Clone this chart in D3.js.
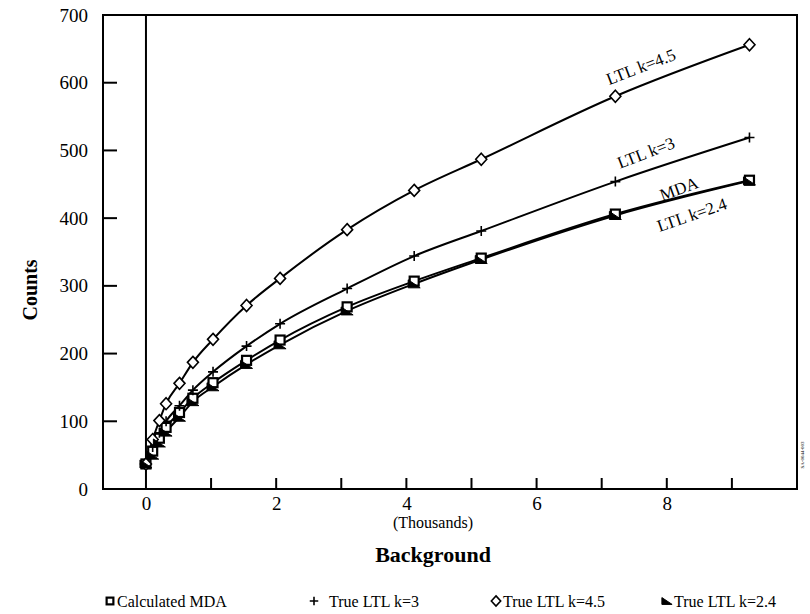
<!DOCTYPE html>
<html><head><meta charset="utf-8">
<script src="https://cdn.jsdelivr.net/npm/d3@7"></script>
<style>
body{margin:0;background:#fff;}
svg{display:block;}
svg text{font-family:"Liberation Serif","Times New Roman","DejaVu Serif",serif !important;fill:#000;}
</style></head>
<body><svg id="c" width="810" height="614"></svg>
<script>
const background = [0, 0.103, 0.206, 0.309, 0.515, 0.721, 1.03, 1.545, 2.06, 3.09, 4.12, 5.15, 7.21, 9.27];
const ltl45 = [37, 73, 101, 126, 156, 187, 221, 271, 311, 383, 441, 487, 580, 656];
const ltl3 = [37, 62, 83, 100, 123, 146, 173, 211, 244, 296, 344, 381, 454, 519];
const mda = [37, 56, 75, 91, 113, 134, 157, 190, 220, 269, 307, 341, 406, 456];
const ltl24 = [37, 50, 68, 84, 106, 129, 151, 184, 213, 263, 303, 339, 404, 455];
const yTicks = [0, 100, 200, 300, 400, 500, 600, 700];
const xTicks = [1, 2, 3, 4, 5, 6, 7, 8, 9];
const xLabels = [0, 2, 4, 6, 8];
const seriesNames = ["Calculated MDA", "True LTL k=3", "True LTL k=4.5", "True LTL k=2.4"];
const curveLabels = ["LTL k=4.5", "LTL k=3", "MDA", "LTL k=2.4"];

const SERIF = "Liberation Serif";
const svg = d3.select("#c");
const x = d3.scaleLinear().domain([-0.66, 10]).range([103, 797]);
const y = d3.scaleLinear().domain([0, 700]).range([489, 15]);

// frame
svg.append("rect").attr("x", x(-0.66)).attr("y", y(700)).attr("width", x(10) - x(-0.66)).attr("height", y(0) - y(700))
  .attr("fill", "none").attr("stroke", "#000").attr("stroke-width", 2);
svg.append("line").attr("x1", x(0)).attr("x2", x(0)).attr("y1", y(700)).attr("y2", y(0)).attr("stroke", "#000").attr("stroke-width", 2);

// y ticks
const yAxis = d3.axisLeft(y).tickValues(yTicks).tickSize(0).tickPadding(15);
const gy = svg.append("g").attr("transform", `translate(${x(-0.66)},0)`).call(yAxis);
gy.select(".domain").remove();
gy.attr("font-family", SERIF);
gy.selectAll("text").attr("font-size", 19).attr("font-family", SERIF).attr("fill", "#000");
svg.selectAll(".ytk").data(yTicks.filter(d => d > 0 && d < 700)).enter().append("line")
  .attr("x1", x(-0.66)).attr("x2", x(-0.66) + 14).attr("y1", d => y(d)).attr("y2", d => y(d))
  .attr("stroke", "#000").attr("stroke-width", 2);

// x ticks
svg.selectAll(".xtk").data(xTicks).enter().append("line")
  .attr("x1", d => x(d)).attr("x2", d => x(d)).attr("y1", y(0)).attr("y2", y(0) - 11)
  .attr("stroke", "#000").attr("stroke-width", 2);
const xAxis = d3.axisBottom(x).tickValues(xLabels).tickSize(0).tickPadding(8).tickFormat(d3.format("d"));
const gx = svg.append("g").attr("transform", `translate(0,${y(0)})`).call(xAxis);
gx.select(".domain").remove();
gx.attr("font-family", SERIF);
gx.selectAll("text").attr("font-size", 19).attr("font-family", SERIF).attr("fill", "#000");

// axis titles
svg.append("text").attr("x", 433).attr("y", 528).attr("text-anchor", "middle").attr("font-size", 16).text("(Thousands)");
svg.append("text").attr("x", 433).attr("y", 562).attr("text-anchor", "middle").attr("font-size", 22).attr("font-weight", "bold").text("Background");
svg.append("text").attr("transform", "translate(37,290) rotate(-90)").attr("text-anchor", "middle").attr("font-size", 20).attr("font-weight", "bold").text("Counts");

// lines
const line = d3.line().x(d => x(d[0])).y(d => y(d[1])).curve(d3.curveMonotoneX);
const series = [
  {vals: mda, m: "square"},
  {vals: ltl3, m: "plus"},
  {vals: ltl45, m: "diamond"},
  {vals: ltl24, m: "tri"}
];
series.forEach(s => {
  const pts = background.map((b, i) => [b, s.vals[i]]);
  svg.append("path").attr("d", line(pts)).attr("fill", "none").attr("stroke", "#000").attr("stroke-width", 2);
});

function marker(g, type, cx, cy, sc) {
  sc = sc || 1;
  if (type === "square") {
    g.append("rect").attr("x", cx - 4.5 * sc).attr("y", cy - 4.5 * sc).attr("width", 9 * sc).attr("height", 9 * sc)
      .attr("fill", "#fff").attr("stroke", "#000").attr("stroke-width", 2.2);
  } else if (type === "diamond") {
    g.append("path").attr("d", `M${cx},${cy - 6 * sc}L${cx + 5.5 * sc},${cy}L${cx},${cy + 6 * sc}L${cx - 5.5 * sc},${cy}Z`)
      .attr("fill", "#fff").attr("stroke", "#000").attr("stroke-width", 1.6);
  } else if (type === "plus") {
    g.append("path").attr("d", `M${cx - 5 * sc},${cy}H${cx + 5 * sc}M${cx},${cy - 5 * sc}V${cy + 5 * sc}`)
      .attr("stroke", "#000").attr("stroke-width", 1.6);
  } else {
    g.append("path").attr("d", `M${cx - 6 * sc},${cy - 4 * sc}L${cx + 6 * sc},${cy + 4 * sc}L${cx - 6 * sc},${cy + 4 * sc}Z`)
      .attr("fill", "#000").attr("stroke", "#000").attr("stroke-width", 1);
  }
}
const mg = svg.append("g");
series.forEach(s => {
  background.forEach((b, i) => marker(mg, s.m, x(b), y(s.vals[i])));
});

// curve labels
const labelPos = [[641, 67, -21], [646, 153, -21], [679, 189, -20], [692, 215, -19]];
curveLabels.forEach((t, i) => {
  const p = labelPos[i];
  svg.append("text").attr("transform", `translate(${p[0]},${p[1]}) rotate(${p[2]})`)
    .attr("text-anchor", "middle").attr("dominant-baseline", "central").attr("font-size", 17).text(t);
});

// legend
const legX = [112, 316, 498, 669];
const lg = svg.append("g");
series.forEach((s, i) => {
  marker(lg, s.m, legX[i] - 2, 601, s.m === "square" ? 0.75 : 0.85);
  lg.append("text").attr("x", legX[i] + (s.m === "plus" ? 13 : 5)).attr("y", 607).attr("font-size", 16).text(seriesNames[i]);
});

// tiny id
svg.append("text").attr("transform", "translate(804,455) rotate(-90)").attr("text-anchor", "middle").attr("font-size", 5).text("SA-0044-003");
</script></body></html>
